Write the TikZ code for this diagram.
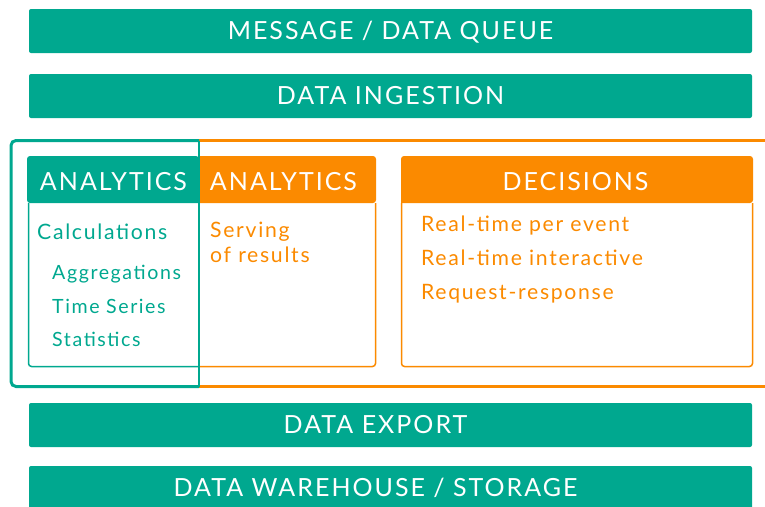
\documentclass[tikz,border=0pt]{standalone}
\usepackage{fontspec}
\setmainfont{Lato}[LetterSpace=8]
\definecolor{tealc}{RGB}{0,168,143}
\definecolor{orangec}{RGB}{251,138,0}
\tikzset{
  bar/.style={rectangle, rounded corners=2pt, fill=tealc, inner sep=0pt,
    minimum width=723pt, minimum height=44pt},
  captext/.style={text=white, inner sep=0pt, text height=18pt, text depth=0pt,
    font=\fontsize{25}{25}\selectfont},
  item/.style={anchor=base west, inner sep=0pt, font=\fontsize{21.2}{21.2}\selectfont},
  subitem/.style={item, font=\fontsize{19.6}{19.6}\selectfont},
  frame/.style={line width=3pt},
  thin/.style={line width=1.5pt},
}
\begin{document}
\begin{tikzpicture}[x=1pt,y=-1pt]
\useasboundingbox (0,0) rectangle (765,506);
\clip (0,0) rectangle (765,506);

% pipeline stages
\node[bar] (queue)  at (390.5,31)  {};
\node[bar] (ingest) at (390.5,96)  {};
\node[bar] (export) at (390.5,425) {};
\node[bar] (store)  at (390.5,488) {};
\node[captext] (queueText)  at ([yshift=1pt]queue.center)  {MESSAGE / DATA QUEUE};
\node[captext] (ingestText) at ([yshift=1pt]ingest.center) {DATA INGESTION};
\node[captext] (exportText) at ([xshift=-15pt,yshift=1pt]export.center) {DATA EXPORT};
\node[captext] (storeText)  at ([xshift=-15pt,yshift=1pt]store.center)  {DATA WAREHOUSE / STORAGE};

% processing frame: orange (serving side) and teal (calculation side)
\draw[frame, orangec] (199,140.5) -- (770,140.5);
\draw[frame, orangec] (199,386.5) -- (770,386.5);
\draw[frame, tealc, rounded corners=5pt] (199,140.5) -- (11,140.5) -- (11,386.5) -- (199,386.5);

% analytics header, split into two colours
\fill[tealc, rounded corners=3pt] (199,203) -- (27,203) -- (27,156) -- (199,156) [sharp corners] -- cycle;
\fill[orangec, rounded corners=3pt] (199,156) -- (376,156) -- (376,203) [sharp corners] -- (199,203) -- cycle;
% analytics body outline
\draw[thin, tealc, rounded corners=3pt] (28.5,203) -- (28.5,366.5) -- (199,366.5);
\draw[thin, orangec, rounded corners=3pt] (199,366.5) -- (375.5,366.5) -- (375.5,203);
\draw[thin, tealc] (199,140.5) -- (199,386.5);

% decisions box
\fill[orangec, rounded corners=3pt] (401,203) -- (401,156) -- (753,156) -- (753,203) [sharp corners] -- cycle;
\draw[thin, orangec, rounded corners=3pt] (401.5,203) -- (401.5,366.5) -- (752.5,366.5) -- (752.5,203);

% header labels
\node[captext] (calcHead)  at (113.5,181) {ANALYTICS};
\node[captext] (serveHead) at (283.5,181) {ANALYTICS};
\node[captext] (decHead)   at (575.5,181) {DECISIONS};

% calculation items
\begin{scope}[every node/.append style={text=tealc}]
\node[item] (calc)  at (37,239)   {Calculations};
\node[subitem] (aggr)  at (52,279.5) {Aggregations};
\node[subitem] (tser)  at (52,313)   {Time Series};
\node[subitem] (stats) at (52,346.5) {Statistics};
\end{scope}

% serving items
\begin{scope}[every node/.append style={text=orangec}]
\node[item] (serve1) at (210,237.5) {Serving};
\node[item] (serve2) at (210,262.5) {of results};
\node[item] (dec1) at (421,231.5) {Real-time per event};
\node[item] (dec2) at (421,265)   {Real-time interactive};
\node[item] (dec3) at (421,299)   {Request-response};
\end{scope}
\end{tikzpicture}
\end{document}
